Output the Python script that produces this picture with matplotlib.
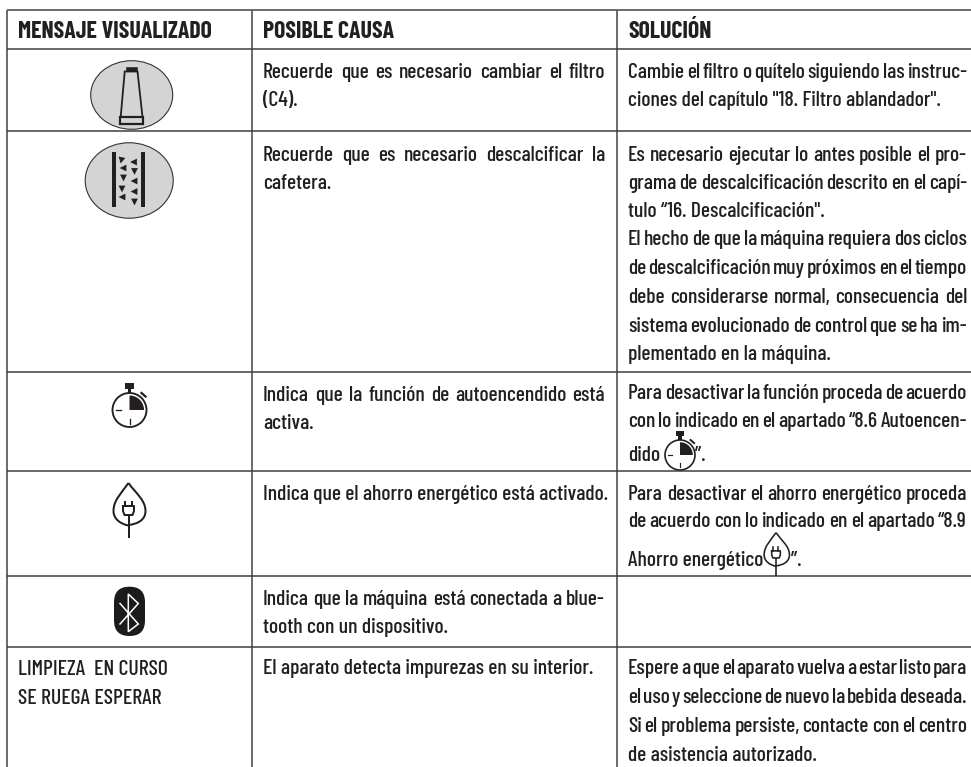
import math
import matplotlib
matplotlib.use('Agg')
import matplotlib.pyplot as plt
from matplotlib.patches import Ellipse, Circle, Polygon, Rectangle, FancyBboxPatch, PathPatch
from matplotlib.path import Path

W, H = 971, 767
INK = '#231f20'
FONT = ['Barlow Condensed', 'DejaVu Sans']
BODY = 15.6
HEAD = 17.2

# Table geometry (pixels)
col_x = [7, 252, 617]
row_y = [49, 131, 372, 471, 576, 647]
top_y = 10

headers = ['MENSAJE VISUALIZADO', 'POSIBLE CAUSA', 'SOLUCIÓN']
header_x = [18, 263, 628]
header_base = 38

# (baseline, text, justified)
col2_lines = [
    (78, 'Recuerde que es necesario cambiar el filtro', True),
    (106, '(C4).', False),
    (161, 'Recuerde que es necesario descalcificar la', True),
    (189, 'cafetera.', False),
    (401, 'Indica que la función de autoencendido está', True),
    (429, 'activa.', False),
    (500, 'Indica que el ahorro energético está activado.', False),
    (605, 'Indica que la máquina está conectada a blue-', True),
    (633, 'tooth con un dispositivo.', False),
    (674, 'El aparato detecta impurezas en su interior.', False),
]
col3_lines = [
    (78, 'Cambie el filtro o quítelo siguiendo las instruc-', True),
    (106, 'ciones del capítulo "18. Filtro ablandador".', False),
    (161, 'Es necesario ejecutar lo antes posible el pro-', True),
    (189, 'grama de descalcificación descrito en el capí-', True),
    (217, 'tulo “16. Descalcificación".', False),
    (245, 'El hecho de que la máquina requiera dos ciclos', True),
    (274, 'de descalcificación muy próximos en el tiempo', True),
    (303, 'debe considerarse normal, consecuencia del', True),
    (332, 'sistema evolucionado de control que se ha im-', True),
    (360, 'plementado en la máquina.', False),
    (399, 'Para desactivar la función proceda de acuerdo', True),
    (427, 'con lo indicado en el apartado “8.6 Autoencen-', True),
    (461, 'dido', False),
    (500, 'Para desactivar el ahorro energético  proceda', True),
    (527, 'de acuerdo con lo indicado en el apartado “8.9', True),
    (566, 'Ahorro energético', False),
    (674, 'Espere a que el aparato vuelva a estar listo para', True),
    (703, 'el uso y seleccione de nuevo la bebida deseada.', True),
    (732, 'Si el problema persiste, contacte con el centro', True),
    (761, 'de asistencia autorizado.', False),
]
col1_lines = [
    (675, 'LIMPIEZA  EN CURSO', False),
    (704, 'SE RUEGA ESPERAR', False),
]
closers = [(695, 461, '”.'), (791, 566, '”.')]

fig = plt.figure(figsize=(W / 100, H / 100), dpi=100)
ax = fig.add_axes([0, 0, 1, 1])
ax.set_xlim(0, W)
ax.set_ylim(H, 0)
ax.axis('off')
renderer = fig.canvas.get_renderer()


def put(x, y, s, **kw):
    kw.setdefault('fontsize', BODY)
    kw.setdefault('fontweight', 500)
    return ax.text(x, y, s, family=FONT, color=INK, ha='left', va='baseline', **kw)


def line_text(x0, x1, y, s, justified):
    if not justified:
        put(x0, y, s)
        return
    words = s.split()
    arts = [put(x0, y, w) for w in words]
    widths = [a.get_window_extent(renderer).width for a in arts]
    gap = (x1 - x0 - sum(widths)) / (len(words) - 1)
    x = x0
    for a, w in zip(arts, widths):
        a.set_x(x)
        x += w + gap


# grid
px = 72 / 100
for x in col_x:
    ax.plot([x, x], [top_y, H], color='#666666', lw=1.9 * px, solid_capstyle='butt')
ax.plot([col_x[0], W], [top_y, top_y], color='#666666', lw=1.9 * px, solid_capstyle='butt')
for y in row_y:
    ax.plot([col_x[0], W], [y, y], color='#3a3a3a', lw=1.5 * px, solid_capstyle='butt')

# text
for x, s in zip(header_x, headers):
    put(x, header_base, s, fontweight='bold', fontsize=HEAD)
for y, s, j in col1_lines:
    line_text(18, 240, y, s, j)
for y, s, j in col2_lines:
    line_text(263, 605, y, s, j)
for y, s, j in col3_lines:
    line_text(628, 967, y, s, j)
for x, y, s in closers:
    put(x, y, s)

# icons
ELL = '#d4d4d4'


def tube():
    ax.add_patch(Ellipse((131.7, 95), 82, 68.6, fc=ELL, ec='#333333', lw=0.8))
    ax.add_patch(Rectangle((126, 66.5), 10.5, 4.5, fc=INK, ec=INK, lw=0.4))
    ax.add_patch(Polygon([(124.7, 71.5), (137.5, 71.5), (142.5, 117), (120.7, 117)],
                         closed=True, fc='none', ec=INK, lw=1.3))
    ax.add_patch(Rectangle((120, 117), 23, 6.6, fc='none', ec=INK, lw=1.6))


tri = [(122, 160, 'dr'), (133.5, 162, 'l'), (123, 168, 'l'), (134.5, 171.5, 'd'),
       (123.5, 178, 'd'), (134, 181, 'l'), (122, 189, 'd'), (134, 191.5, 'l'),
       (122, 197, 'l'), (134.5, 202, 'd')]


def descale():
    ax.add_patch(Ellipse((129.2, 180.5), 88, 75.5, fc=ELL, ec='#333333', lw=0.8))
    ax.add_patch(Rectangle((112, 152.3), 4.3, 54.5, fc=INK, ec='none'))
    ax.add_patch(Rectangle((141, 152.3), 4.3, 54.5, fc=INK, ec='none'))
    s = 3.4
    shapes = {'d': [(-s, -s), (s, -s), (0, s)], 'l': [(s, -s), (s, s), (-s, 0)],
              'dr': [(-s, -s), (s, -s * .6), (-s * .4, s)]}
    for x, y, k in tri:
        ax.add_patch(Polygon([(x + a, y + b) for a, b in shapes[k]], closed=True, fc=INK, ec='none'))


def quarter(cx, cy, r):
    pts = [(cx, cy)]
    for i in range(0, 31):
        t = math.radians(i * 3)
        pts.append((cx + r * math.sin(t), cy - r * math.cos(t)))
    return pts


def clock(cx, cy, r):
    k = r / 17
    lw = 1.35 * k
    ax.add_patch(Circle((cx, cy), r, fc='white', ec=INK, lw=lw))
    ax.add_patch(Polygon(quarter(cx, cy, 14.5 * k), closed=True, fc=INK, ec='none'))
    ax.add_patch(Rectangle((cx - 4.5 * k, cy - 27 * k), 9 * k, 6 * k, fc=INK, ec='none'))
    ax.add_patch(Rectangle((cx - 1.8 * k, cy - 22 * k), 3.6 * k, 5 * k, fc=INK, ec='none'))
    ax.plot([cx + 12 * k, cx + 16 * k], [cy - 17 * k, cy - 13.5 * k], color=INK, lw=lw * 1.2)
    ax.plot([cx - 13.5 * k, cx - 9 * k], [cy, cy], color=INK, lw=lw * .7)
    ax.plot([cx, cx], [cy + 9 * k, cy + 13.5 * k], color=INK, lw=lw * .7)


def leaf(cx, cy, k):
    def P(x, y):
        return (cx + x * k, cy + y * k)
    lw = 1.45 * k
    left = Path([P(-1, -27), P(-8, -17), P(-16, -10), P(-16, 1), P(-16, 9), P(-9, 14), P(-1, 15.5)],
                [Path.MOVETO] + [Path.CURVE4] * 6)
    right = Path([P(-1, -27), P(6, -17), P(16, -10), P(16, 1), P(16, 10), P(8, 14), P(-1, 15)],
                 [Path.MOVETO] + [Path.CURVE4] * 6)
    ax.add_patch(PathPatch(left, fc='none', ec=INK, lw=lw))
    ax.add_patch(PathPatch(right, fc='none', ec=INK, lw=lw))
    ax.plot(*zip(P(-1, 5), P(-1, 28)), color=INK, lw=lw, solid_capstyle='butt')
    ax.plot(*zip(P(-6.5, -4), P(-6.5, 1), P(-5, 5), P(3, 5), P(4.5, 1), P(4.5, -4), P(-6.5, -4)), color=INK, lw=lw)
    ax.plot(*zip(P(-4.5, -8.5), P(-4.5, -4)), color=INK, lw=lw)
    ax.plot(*zip(P(2, -8.5), P(2, -4)), color=INK, lw=lw)


def bluetooth():
    ax.add_patch(FancyBboxPatch((114 + 15.5, 586.7 + 15.5), 0, 49.3 - 31, boxstyle='round,pad=15.5',
                                fc='#1c1a1b', ec='none'))
    ax.plot([120, 138.3, 128.3, 128.3, 138.3, 120], [603.5, 624, 631.7, 594, 603.5, 624],
            color='white', lw=1.1, solid_joinstyle='miter')


tube()
descale()
clock(129.5, 410, 17)
clock(680, 455, 15)
leaf(129.5, 510, 1)
leaf(776.8, 554, 0.79)
bluetooth()

fig.savefig('out.png', dpi=100)
